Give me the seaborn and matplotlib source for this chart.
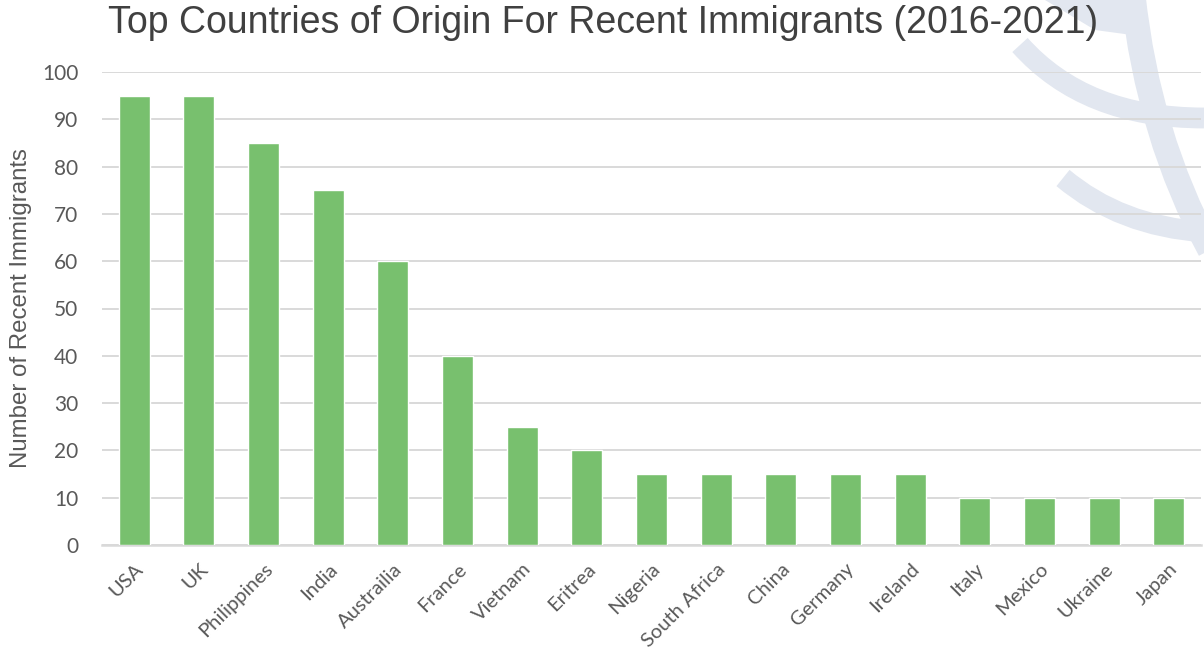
import matplotlib
matplotlib.use("Agg")
import matplotlib.pyplot as plt
from matplotlib.path import Path
from matplotlib.patches import PathPatch
import seaborn as sns
import pandas as pd

countries = ["USA", "UK", "Philippines", "India", "Austrailia", "France", "Vietnam",
             "Eritrea", "Nigeria", "South Africa", "China", "Germany", "Ireland",
             "Italy", "Mexico", "Ukraine", "Japan"]
immigrants = [95, 95, 85, 75, 60, 40, 25, 20, 15, 15, 15, 15, 15, 10, 10, 10, 10]
y_ticks = [0, 10, 20, 30, 40, 50, 60, 70, 80, 90, 100]

df = pd.DataFrame({"country": countries, "immigrants": immigrants})

sns.set_theme(style="white")
plt.rcParams["font.family"] = ["Liberation Sans", "DejaVu Sans"]

W, H = 1204, 656
fig = plt.figure(figsize=(W / 100, H / 100), dpi=100)
fig.patch.set_facecolor("white")

# faint globe emblem in the upper right corner (pixel coordinates, y downward)
def px(x, y):
    return (x / W, 1 - y / H)

mark = "#e2e7f0"
curves = [
    ([(1020, 45), (1085, 118), (1204, 118)], 15),
    ([(1063, 178), (1120, 226), (1204, 232)], 15),
    ([(1133, -5), (1148, 135), (1210, 250)], 18),
]
for pts, lw in curves:
    path = Path([px(*p) for p in pts], [Path.MOVETO, Path.CURVE3, Path.CURVE3])
    fig.add_artist(PathPatch(path, facecolor="none", edgecolor=mark, lw=lw,
                             capstyle="butt", transform=fig.transFigure, zorder=0))
top = Path([px(1045, 0), px(1140, 0), px(1132, 35), px(1095, 30), px(1045, 0)])
fig.add_artist(PathPatch(top, facecolor=mark, edgecolor="none",
                         transform=fig.transFigure, zorder=0))

ax = fig.add_axes([102 / W, 1 - 545 / H, (1201 - 102) / W, (545 - 72) / H])
ax.patch.set_alpha(0)

sns.barplot(data=df, x="country", y="immigrants", color="#78c06e",
            width=0.48, saturation=1, ax=ax, zorder=3)

ax.set_ylim(0, 100)
ax.set_xlim(-0.5, len(countries) - 0.5)
ax.set_yticks(y_ticks)
ax.grid(axis="y", color="#d9d9d9", lw=1.4, zorder=0)
ax.grid(axis="x", visible=False)
for s in ["top", "right", "left"]:
    ax.spines[s].set_visible(False)
ax.spines["bottom"].set_color("#d9d9d9")
ax.spines["bottom"].set_linewidth(1.8)
ax.tick_params(axis="both", length=0)

ax.set_yticklabels([str(v) for v in y_ticks], fontsize=15, color="#595959",
                   family=["Lato", "DejaVu Sans"])
ax.tick_params(axis="y", pad=17)
ax.set_xticks(range(len(countries)))
ax.set_xticklabels(countries, rotation=45, ha="right", va="top",
                   rotation_mode="anchor", fontsize=14.5, color="#595959",
                   family=["Lato", "DejaVu Sans"])
ax.tick_params(axis="x", pad=11)

ax.set_xlabel("")
ax.set_ylabel("Number of Recent Immigrants", fontsize=17.3, color="#595959", labelpad=7)
fig.text(108 / W, 1 - 23 / H, "Top Countries of Origin For Recent Immigrants (2016-2021)",
         fontsize=27, color="#404040", ha="left", va="center")

fig.savefig("out.png", dpi=100, facecolor="white")
